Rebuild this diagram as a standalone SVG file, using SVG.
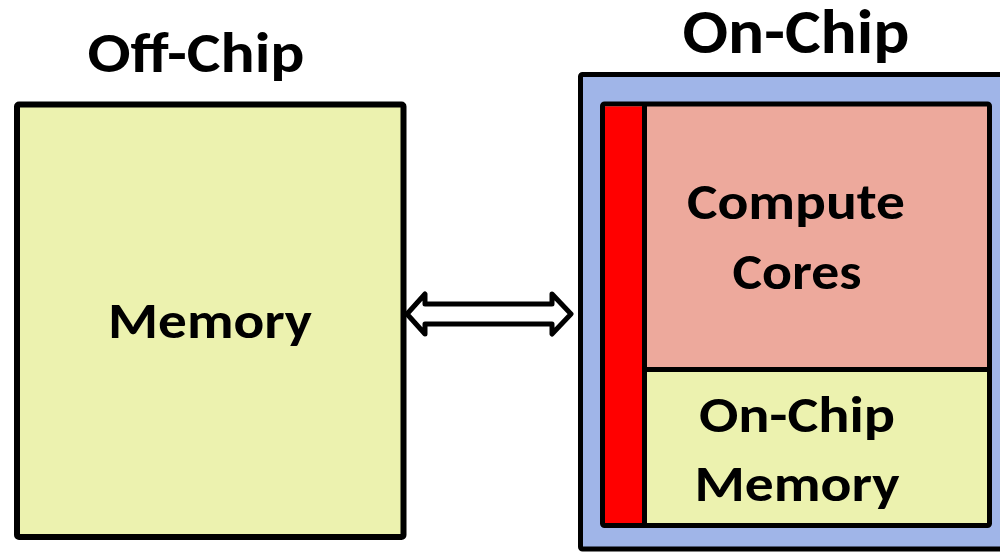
<svg xmlns="http://www.w3.org/2000/svg" width="1000" height="552" viewBox="0 0 1000 552">
  <style>
    .lbl { font-family: Carlito, Lato, "Liberation Sans", sans-serif; font-weight: bold; fill: #000; text-anchor: middle; }
    .box { stroke: #000; stroke-linejoin: round; }
  </style>
  <rect width="1000" height="552" fill="#fff"/>

  <!-- Off-chip side -->
  <g id="off-chip-title">
    <text class="lbl" x="196" y="72" font-size="56" textLength="217" lengthAdjust="spacingAndGlyphs">Off-Chip</text>
  </g>
  <g id="memory">
    <rect class="box" x="17" y="104.5" width="386.5" height="432.5" rx="2" fill="#ECF2AF" stroke-width="6"/>
    <text class="lbl" x="210" y="338" font-size="50" textLength="204" lengthAdjust="spacingAndGlyphs">Memory</text>
  </g>

  <!-- On-chip side -->
  <g id="on-chip-title">
    <text class="lbl" x="796" y="53" font-size="62" textLength="227" lengthAdjust="spacingAndGlyphs">On-Chip</text>
  </g>
  <g id="chip">
    <rect class="box" x="580.5" y="74.5" width="440" height="474.5" rx="2" fill="#A0B5E8" stroke-width="5"/>
    <rect class="box" x="602.5" y="104" width="387" height="421.5" rx="2" fill="#EDA99C" stroke-width="5"/>
  </g>
  <g id="interconnect">
    <rect x="605" y="106.5" width="37.5" height="416.5" fill="#FF0000"/>
    <line x1="644.5" y1="104" x2="644.5" y2="525.5" stroke="#000" stroke-width="5"/>
  </g>
  <g id="compute-cores">
    <text class="lbl" x="796" y="219" font-size="50" textLength="218" lengthAdjust="spacingAndGlyphs">Compute</text>
    <text class="lbl" x="797" y="289" font-size="50" textLength="129" lengthAdjust="spacingAndGlyphs">Cores</text>
  </g>
  <g id="on-chip-memory">
    <rect x="647" y="371.5" width="340" height="151.5" fill="#ECF2AF"/>
    <line x1="644.5" y1="369.5" x2="989.5" y2="369.5" stroke="#000" stroke-width="5"/>
    <text class="lbl" x="797" y="432" font-size="50" textLength="196" lengthAdjust="spacingAndGlyphs">On-Chip</text>
    <text class="lbl" x="797" y="501" font-size="50" textLength="205" lengthAdjust="spacingAndGlyphs">Memory</text>
  </g>

  <!-- Connectors -->
  <g id="connectors">
    <polygon points="407,314 425,294 425,304 552,304 552,294 571,314 552,334 552,324 425,324 425,334" fill="#fff" stroke="#000" stroke-width="5" stroke-linejoin="round"/>
  </g>
</svg>
